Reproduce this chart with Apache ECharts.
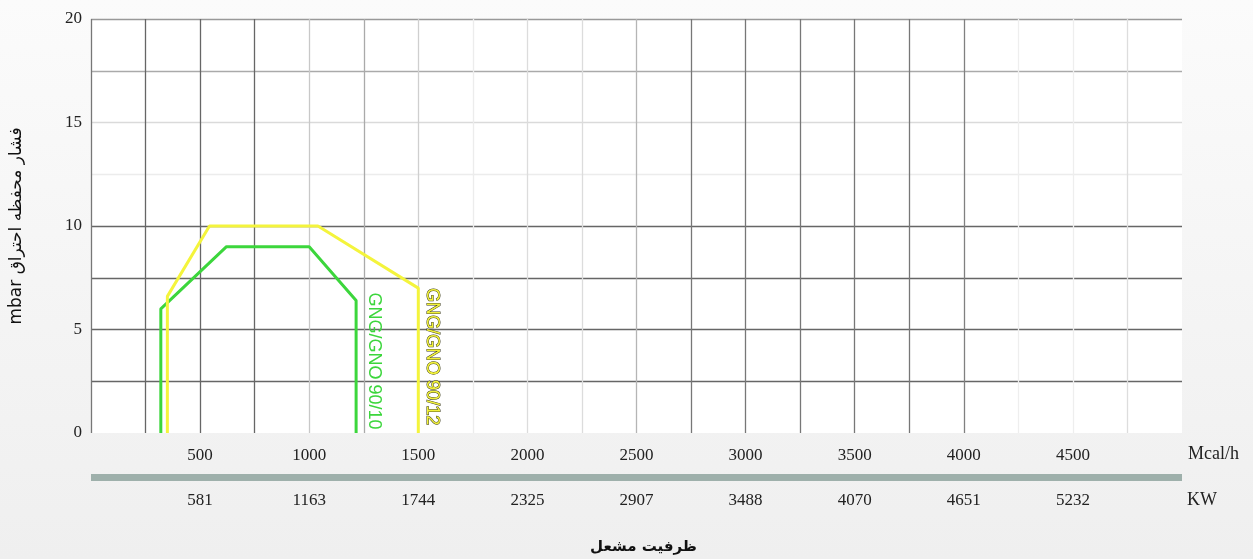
<!DOCTYPE html>
<html><head><meta charset="utf-8">
<script src="https://cdn.jsdelivr.net/npm/echarts@6/dist/echarts.min.js"></script>
<style>html,body{margin:0;padding:0;background:#f2f2f2}#c{width:1253px;height:559px}</style>
</head><body><div id="c"></div>
<script>
// ---- data ----
const xMin = 0, xMax = 5000, xStep = 250;
const yMin = 0, yMax = 20, yStep = 2.5;
const kwLabels = ['581','1163','1744','2325','2907','3488','4070','4651','5232'];
const greenX = [320, 320, 621, 1000, 1215, 1215];
const greenY = [0, 6, 9, 9, 6.4, 0];
const yellowX = [350, 350, 543, 1040, 1500, 1500];
const yellowY = [0, 6.6, 10, 10, 7, 0];
const greenName = 'GNG/GNO 90/10';
const yellowName = 'GNG/GNO 90/12';
const yName = 'mbar فشار محفظه احتراق';
const xTitle = 'ظرفیت مشعل';
const unitTop = 'Mcal/h';
const unitBottom = 'KW';

// ---- styles ----
const xSplitColors = ['#777','#666','#666','#666','#c8c8c8','#aaa','#cfcfcf','#ececec','#dcdcdc','#dcdcdc','#b5b5b5',
  '#777','#777','#777','#777','#777','#808080','#eeeeee','#eeeeee','#dddddd','rgba(0,0,0,0)'];
const ySplitColors = ['rgba(0,0,0,0)','#666','#666','#666','#666','#ececec','#dadada','#aaa','#999'];
const serif = '"Liberation Serif", "DejaVu Serif", serif';
const zip = (a, b) => a.map((v, i) => [v, b[i]]);

const chart = echarts.init(document.getElementById('c'), null, {renderer: 'canvas'});
const isMajor = v => v % 500 === 0 && v > xMin && v < xMax;

chart.setOption({
  animation: false,
  backgroundColor: {type: 'linear', x: 0, y: 0, x2: 0, y2: 1,
    colorStops: [{offset: 0, color: '#fbfbfb'}, {offset: 1, color: '#efefef'}]},
  grid: {left: 88, right: 71, top: 19, bottom: 126, show: true, backgroundColor: '#ffffff', borderWidth: 0},
  xAxis: [{
    type: 'value', min: xMin, max: xMax, interval: xStep,
    axisLine: {show: false}, axisTick: {show: false},
    splitLine: {show: true, lineStyle: {color: xSplitColors, width: 1.3}},
    axisLabel: {margin: 14, fontFamily: serif, fontSize: 17, color: '#222',
      formatter: v => isMajor(v) ? String(v) : ''}
  }, {
    type: 'value', min: xMin, max: xMax, interval: xStep, position: 'bottom', offset: 44,
    axisLine: {show: true, lineStyle: {color: '#9eb0ab', width: 7, cap: 'butt'}},
    axisTick: {show: false}, splitLine: {show: false},
    axisLabel: {margin: 15, fontFamily: serif, fontSize: 17, color: '#222',
      formatter: v => isMajor(v) ? kwLabels[v / 500 - 1] : ''}
  }],
  yAxis: {
    type: 'value', min: yMin, max: yMax, interval: yStep,
    axisLine: {show: false}, axisTick: {show: false},
    splitLine: {show: true, lineStyle: {color: ySplitColors, width: 1.3}},
    axisLabel: {margin: 9, fontFamily: serif, fontSize: 17, color: '#222',
      formatter: v => v % 5 === 0 ? String(v) : ''},
    name: yName, nameLocation: 'middle', nameGap: 66, nameRotate: 90,
    nameTextStyle: {fontFamily: '"DejaVu Sans", sans-serif', fontSize: 17, color: '#111'}
  },
  series: [{
    name: greenName, type: 'line', xAxisIndex: 0, data: zip(greenX, greenY),
    showSymbol: false, symbol: 'none', lineStyle: {color: '#3cd63c', width: 3}, z: 3
  }, {
    name: yellowName, type: 'line', xAxisIndex: 0, data: zip(yellowX, yellowY),
    showSymbol: false, symbol: 'none', lineStyle: {color: '#f4f43c', width: 3}, z: 4
  }]
});

const gp = chart.convertToPixel({xAxisIndex: 0, yAxisIndex: 0}, [greenX[4], greenY[4]]);
const yp = chart.convertToPixel({xAxisIndex: 0, yAxisIndex: 0}, [yellowX[4], yellowY[4]]);
const right = chart.convertToPixel({xAxisIndex: 0, yAxisIndex: 0}, [xMax, yMin]);
const mid = chart.convertToPixel({xAxisIndex: 0, yAxisIndex: 0}, [(xMin + xMax) / 2, yMin]);

chart.setOption({
  graphic: [
    {type: 'text', x: gp[0] + 18, y: gp[1] - 8, rotation: -Math.PI / 2, z: 10,
      style: {text: greenName, fill: '#3cd63c', font: '18px "Liberation Sans", Arial, sans-serif',
        align: 'left', verticalAlign: 'middle'}},
    {type: 'text', x: yp[0] + 14, y: yp[1], rotation: -Math.PI / 2, z: 10,
      style: {text: yellowName, fill: '#f2f23a', stroke: '#3a3a1a', lineWidth: 1,
        font: '18px "Liberation Sans", Arial, sans-serif', align: 'left', verticalAlign: 'middle'}},
    {type: 'text', x: right[0] + 6, y: right[1] + 21,
      style: {text: unitTop, fill: '#222', font: '18px ' + serif, align: 'left', verticalAlign: 'middle'}},
    {type: 'text', x: right[0] + 5, y: right[1] + 67,
      style: {text: unitBottom, fill: '#222', font: '18px ' + serif, align: 'left', verticalAlign: 'middle'}},
    {type: 'text', x: mid[0] + 7, y: right[1] + 114,
      style: {text: xTitle, fill: '#111', font: 'bold 15px "DejaVu Sans", sans-serif', align: 'center', verticalAlign: 'middle'}}
  ]
});
</script></body></html>
